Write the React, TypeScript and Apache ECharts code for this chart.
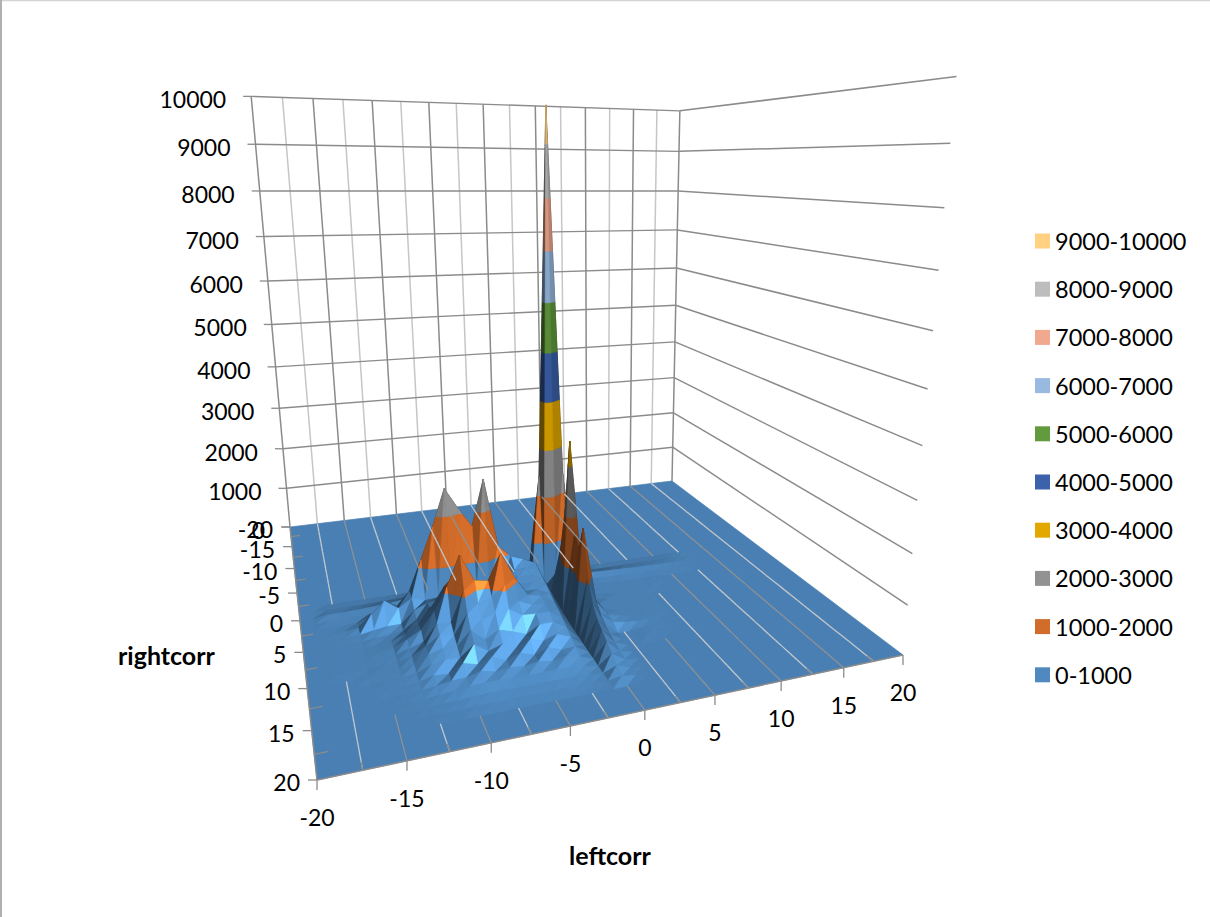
import React, { useEffect, useRef } from "react";
import * as echarts from "echarts";

const bandNames = ["0-1000","1000-2000","2000-3000","3000-4000","4000-5000","5000-6000","6000-7000","7000-8000","8000-9000","9000-10000"];
const bandColors = ["#4f89bf","#d26c2a","#929292","#e2a800","#3b62ab","#629a3e","#98b9e0","#f0a88e","#bdbdbd","#ffd180"];
const zTicks = [0,1000,2000,3000,4000,5000,6000,7000,8000,9000,10000];
const axisTicks = [-20,-15,-10,-5,0,5,10,15,20];
const minorTicks = [-17.5,-12.5,-7.5,-2.5,2.5,7.5,12.5,17.5];
// leftcorr columns of the table below (anything outside the table is 0)
const leftCols = [-18,-17,-16,-15,-14,-13,-12,-11,-10,-9,-8,-7,-6,-5,-4,-3,-2,-1,0,1,2,3,4,5,6,7,8,9,10,11,12];
// rightcorr rows of the table below
const rightRows = [-3,-2,-1,0,1,2,3,4,5,6,7,8,9,10,11,12,13,14,15,16];
const heightRows = [
 [0,0,0,0,0,0,0,0,0,0,0,0,0,0,0,0,0,20,60,20],
 [0,0,0,0,0,0,0,0,0,0,10,10,10,10,10,10,10,30,120,30],
 [10,10,10,10,15,20,30,40,50,60,50,50,60,50,40,40,60,100,300,100,50,20,15,10,10,10,10,10,10,10,5],
 [30,30,40,50,70,90,120,160,200,240,220,230,280,240,220,200,300,2400,9700,2400,200,90,70,60,50,40,35,30,25,20,10],
 [15,15,25,35,50,70,180,450,650,850,650,500,850,500,480,480,300,30,300,100,60,50,40,30,25,20,15,10,10,10,5],
 [5,5,20,100,180,240,520,1150,1800,2550,2100,1700,2650,1200,950,850,720,100,500,150,70,50,30,20,10,5,5],
 [5,10,40,280,520,320,480,400,420,450,420,430,450,430,760,780,670,130,1300,250,80,50,30,20,10,5,5],
 [5,8,20,70,110,110,350,460,520,600,620,640,660,680,720,720,620,90,2200,300,90,50,30,20,10,5],
 [5,5,10,40,60,100,280,480,540,780,720,760,800,700,680,680,580,70,3500,350,100,60,30,20,10],
 [5,5,8,30,60,150,300,620,1000,1250,900,900,1100,800,660,640,520,50,1700,400,120,60,30,20,10],
 [5,5,8,30,60,180,320,650,1100,1700,1150,1100,1620,1080,680,620,460,40,1500,400,120,60,30,20,10],
 [5,5,8,25,50,130,220,520,500,1100,800,880,1080,720,600,580,420,30,2000,450,130,60,30,20,5],
 [5,5,5,20,40,110,260,430,380,760,600,690,720,560,540,540,360,25,1100,300,100,50,30,15],
 [0,0,5,15,35,90,230,300,300,560,330,480,400,300,450,450,300,20,700,220,0,0,10,10],
 [0,0,0,10,25,60,170,220,210,420,240,330,220,330,260,340,230,15,500,150,0,0,10,5],
 [0,0,0,5,15,40,110,90,240,170,260,150,240,150,250,160,170,10,400,110],
 [0,0,0,0,8,25,60,100,110,180,120,150,120,160,120,160,110,10,300,70],
 [0,0,0,0,3,12,30,55,85,100,100,90,90,90,100,90,60,5,200,40],
 [0,0,0,0,0,5,15,25,40,50,50,45,45,45,50,45,30,5,110,15],
 [0,0,0,0,0,0,5,8,15,20,20,18,18,18,20,18,12,5,50,5],
];

const height = (l: number, r: number): number => {
  const ri = rightRows.indexOf(r), ci = leftCols.indexOf(l);
  if (ri < 0 || ci < 0) return 0;
  return heightRows[ri][ci] ?? 0;
};

// Camera: floor corners and wall tops as seen in the picture
const cornerD = [290, 527], cornerC = [672, 481], cornerB = [903, 655], cornerA = [317, 780];
const zAnchors: [number, number, number, number, number][] = [
  [-20,-20,10000,251,100],[-20,-20,10000,251,100],[-20,-20,7000,264,240],[20,-20,10000,679,109],[20,20,10000,959,73],[20,20,1000,908,606],[-20,-20,5000,272,326],[20,20,5000,927,390],[20,-20,5000,675,295],
];
const dx1 = cornerC[0]-cornerB[0], dx2 = cornerA[0]-cornerB[0], sx = cornerD[0]-cornerC[0]+cornerB[0]-cornerA[0];
const dy1 = cornerC[1]-cornerB[1], dy2 = cornerA[1]-cornerB[1], sy = cornerD[1]-cornerC[1]+cornerB[1]-cornerA[1];
const det = dx1*dy2-dx2*dy1;
const G = (sx*dy2-dx2*sy)/det, H = (dx1*sy-sx*dy1)/det;
const A = cornerC[0]-cornerD[0]+G*cornerC[0], B = cornerA[0]-cornerD[0]+H*cornerA[0], C = cornerD[0];
const D = cornerC[1]-cornerD[1]+G*cornerC[1], E = cornerA[1]-cornerD[1]+H*cornerA[1], F = cornerD[1];
const floorH = (l: number, r: number) => {
  const s = (l+20)/40, t = (r+20)/40;
  return [A*s+B*t+C, D*s+E*t+F, G*s+H*t+1];
};
const solveZ = () => {
  const M = [[0,0,0,0],[0,0,0,0],[0,0,0,0]];
  const add = (row: number[], rhs: number) => {
    for (let i=0;i<3;i++){ for (let j=0;j<3;j++) M[i][j]+=row[i]*row[j]; M[i][3]+=row[i]*rhs; }
  };
  zAnchors.forEach(([l,r,z,u,v]) => {
    const [X,Y,W] = floorH(l,r);
    add([z,0,-u*z],u*W-X);
    add([0,z,-v*z],v*W-Y);
  });
  for (let i=0;i<3;i++){
    for (let k=i+1;k<3;k++){
      const f=M[k][i]/M[i][i];
      for (let j=i;j<4;j++) M[k][j]-=f*M[i][j];
    }
  }
  const x=[0,0,0];
  for (let i=2;i>=0;i--){
    let v=M[i][3];
    for (let j=i+1;j<3;j++) v-=M[i][j]*x[j];
    x[i]=v/M[i][i];
  }
  return x;
};
const [zA,zB,zC] = solveZ();
const project = (l: number, r: number, z: number): number[] => {
  const [X,Y,W] = floorH(l,r);
  const w = W+zC*z;
  return [(X+zA*z)/w,(Y+zB*z)/w];
};
const depth = (l: number, r: number) => floorH(l,r)[2];

// Lighting
const zUnit = 280;
const light = [0.12,0.68,0.72];
const lightStops = [[0,0.4],[0.4,0.5],[0.6,0.72],[0.72,0.93],[0.92,1.15],[0.975,1.3],[1,1.75]];
const lightCurve = (dot: number) => {
  for (let i=1;i<lightStops.length;i++){
    const [x0,y0]=lightStops[i-1],[x1,y1]=lightStops[i];
    if (dot<=x1) return y0+(y1-y0)*(dot-x0)/(x1-x0);
  }
  return 1.75;
};
const shade = (hex: string, k: number) => {
  const n = parseInt(hex.slice(1),16);
  const c = [(n>>16)&255,(n>>8)&255,n&255].map(v=>Math.min(255,Math.round(v*k)));
  return `rgb(${c[0]},${c[1]},${c[2]})`;
};
type P3 = number[];
const clipZ = (poly: P3[], level: number, keepAbove: boolean): P3[] => {
  const out: P3[] = [];
  for (let i=0;i<poly.length;i++){
    const a=poly[i], b=poly[(i+1)%poly.length];
    const ia = keepAbove ? a[2]>=level : a[2]<=level;
    const ib = keepAbove ? b[2]>=level : b[2]<=level;
    if (ia) out.push(a);
    if (ia!==ib){
      const t=(level-a[2])/(b[2]-a[2]);
      out.push([a[0]+t*(b[0]-a[0]),a[1]+t*(b[1]-a[1]),level]);
    }
  }
  return out;
};
type Piece = { pts: number[][]; fill: string; d: number };
const pieces: Piece[] = [];
const floorFill = shade(bandColors[0], lightCurve(light[2]));
pieces.push({pts:[project(-20,-20,0),project(20,-20,0),project(20,20,0),project(-20,20,0)],fill:floorFill,d:99});
const addFacet = (tri: P3[]) => {
  const u=[tri[1][0]-tri[0][0],tri[1][1]-tri[0][1],(tri[1][2]-tri[0][2])/zUnit];
  const v=[tri[2][0]-tri[0][0],tri[2][1]-tri[0][1],(tri[2][2]-tri[0][2])/zUnit];
  let n=[u[1]*v[2]-u[2]*v[1],u[2]*v[0]-u[0]*v[2],u[0]*v[1]-u[1]*v[0]];
  if (n[2]<0) n=n.map(q=>-q);
  const len=Math.hypot(n[0],n[1],n[2]);
  const dot=Math.max(0,(n[0]*light[0]+n[1]*light[1]+n[2]*light[2])/len);
  const k=lightCurve(dot);
  const d=tri.reduce((s,p)=>s+depth(p[0],p[1]),0)/tri.length;
  const zs=tri.map(p=>p[2]);
  const lo=Math.min(...zs), hi=Math.max(...zs);
  bandColors.forEach((col,bi)=>{
    const b0=bi*1000,b1=(bi+1)*1000;
    if (hi<b0||lo>b1) return;
    let poly=clipZ(tri,b0,true);
    if (poly.length) poly=clipZ(poly,b1,false);
    if (poly.length<3) return;
    pieces.push({pts:poly.map(p=>project(p[0],p[1],p[2])),fill:shade(col,k),d});
  });
};
for (let l=-20;l<20;l++){
  for (let r=-20;r<20;r++){
    const a=height(l,r),b=height(l+1,r),c=height(l+1,r+1),e=height(l,r+1);
    if (a===0&&b===0&&c===0&&e===0) continue;
    addFacet([[l,r,a],[l+1,r,b],[l,r+1,e]]);
    addFacet([[l+1,r,b],[l+1,r+1,c],[l,r+1,e]]);
  }
}
pieces.sort((p,q)=>q.d-p.d);

type Seg = { a: number[]; b: number[]; color: string; width: number };
const gridDark = "#8b8b8b", gridLight = "#c6c6c6";
const wallSegs: Seg[] = [];
const overSegs: Seg[] = [];
const leftLines = [...axisTicks,...minorTicks];
leftLines.forEach(l=>{
  const major=axisTicks.includes(l);
  wallSegs.push({a:project(l,-20,0),b:project(l,-20,10000),color:major?gridDark:gridLight,width:1.5});
  if (Math.abs(l)===20) return;
  // floor gridlines only show where the surface lies flat on the floor
  for (let r=-20;r<20;r++){
    const cols=Number.isInteger(l)?[l-1,l,l+1]:[Math.floor(l),Math.ceil(l)];
    const clear=cols.every(c=>height(c,r)===0&&height(c,r+1)===0);
    if (clear) overSegs.push({a:project(l,r,0),b:project(l,r+1,0),color:major?"#8f9194":"#c4c8cc",width:1.3});
  }
});
zTicks.forEach(z=>{
  if (z>0) {
    wallSegs.push({a:project(-20,-20,z),b:project(20,-20,z),color:gridDark,width:1.4});
    wallSegs.push({a:project(20,-20,z),b:project(20,20,z),color:gridDark,width:1.5});
  }
  const p=project(-20,-20,z);
  wallSegs.push({a:[p[0]-8,p[1]],b:p,color:gridDark,width:1.3});
});
overSegs.push({a:project(-20,20,0),b:project(20,20,0),color:gridDark,width:1.5});
overSegs.push({a:project(-20,-20,0),b:project(-20,20,0),color:gridDark,width:1.5});
axisTicks.forEach(v=>{
  const p=project(v,20,0);
  overSegs.push({a:p,b:[p[0],p[1]+10],color:gridDark,width:1.3});
  const q=project(-20,v,0);
  overSegs.push({a:[q[0]-9,q[1]],b:q,color:gridDark,width:1.3});
});
minorTicks.forEach(v=>{
  overSegs.push({a:project(v,20,0),b:project(v,19.2,0),color:gridDark,width:1.3});
  overSegs.push({a:project(-20,v,0),b:project(-19.2,v,0),color:gridDark,width:1.3});
});

type Lab = { text: string; x: number; y: number; align: string };
const labels: Lab[] = [];
zTicks.forEach(z=>{
  const p=project(-20,-20,z);
  labels.push({text:String(z),x:p[0]-25,y:p[1]+3,align:"right"});
});
axisTicks.forEach(v=>{
  const q=project(-20,v,0);
  labels.push({text:String(v),x:q[0]-17,y:q[1]+2,align:"right"});
  const p=project(v,20,0);
  labels.push({text:String(v),x:p[0],y:p[1]+37,align:"center"});
});

const FONT = "Lato";
const segSeries = (segs: Seg[], z: number) => ({
  type: "custom", coordinateSystem: "none", silent: true, z, clip: false, progressive: 0,
  data: segs.map((_,i)=>[i]),
  renderItem: (_p: any, api: any) => {
    const s=segs[api.value(0)];
    return { type:"line", shape:{x1:s.a[0],y1:s.a[1],x2:s.b[0],y2:s.b[1]}, style:{stroke:s.color,lineWidth:s.width,fill:"none"} };
  },
});

export default function App() {
  const ref = useRef<HTMLDivElement>(null);
  useEffect(() => {
    document.body.style.margin = "0";
    const chart = echarts.init(ref.current!, null, { renderer: "svg" });
    chart.setOption({
      animation: false,
      backgroundColor: "#ffffff",
      legend: {
        orient: "vertical", left: 1030, top: 224, itemWidth: 15, itemHeight: 15, itemGap: 24.2, selectedMode: false,
        icon: "rect",
        textStyle: { fontFamily: FONT, fontSize: 23.5, color: "#000" },
        data: [...bandNames].reverse().map(n=>({name:n,itemStyle:{color:bandColors[bandNames.indexOf(n)]}})),
      },
      graphic: [
        { type:"rect", silent:true, shape:{x:0,y:0,width:1210,height:1.2}, style:{fill:"#d4d4d4"} },
        { type:"rect", silent:true, shape:{x:0,y:0,width:2,height:917}, style:{fill:"#b0b0b0"} },
        { type:"text", silent:true, x:118, y:642, style:{text:"rightcorr",font:`bold 25px ${FONT}`,fill:"#000"} },
        { type:"text", silent:true, x:569, y:842, style:{text:"leftcorr",font:`bold 25px ${FONT}`,fill:"#000"} },
      ],
      series: [
        ...bandNames.map((n,i)=>({ type:"custom", name:n, coordinateSystem:"none", data:[], itemStyle:{color:bandColors[i]}, renderItem:()=>null })),
        segSeries(wallSegs,1),
        {
          type:"custom", coordinateSystem:"none", silent:true, z:2, clip:false, progressive:0,
          data: pieces.map((_,i)=>[i]),
          renderItem:(_p:any,api:any)=>{
            const s=pieces[api.value(0)];
            return { type:"polygon", shape:{points:s.pts}, style:{fill:s.fill,stroke:s.fill,lineWidth:0.7} };
          },
        },
        segSeries(overSegs,3),
        {
          type:"custom", coordinateSystem:"none", silent:true, z:4, clip:false, progressive:0,
          data: labels.map((_,i)=>[i]),
          renderItem:(_p:any,api:any)=>{
            const s=labels[api.value(0)];
            return { type:"text", style:{text:s.text,x:s.x,y:s.y,textAlign:s.align,textVerticalAlign:"middle",font:`23px ${FONT}`,fill:"#000"} };
          },
        },
      ],
    });
    return () => chart.dispose();
  }, []);
  return <div ref={ref} style={{ width: 1210, height: 917 }} />;
}
